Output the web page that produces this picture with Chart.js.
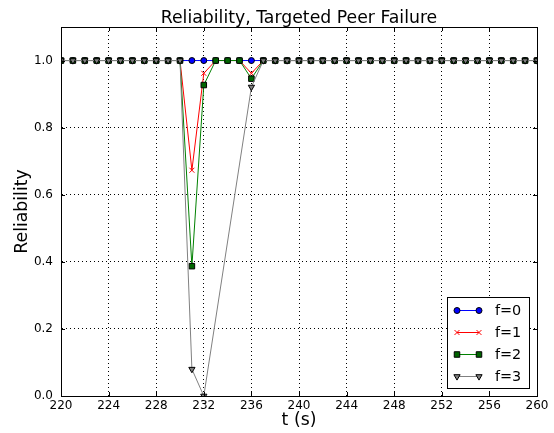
<!DOCTYPE html>
<html><head><meta charset="utf-8">
<script src="https://cdn.jsdelivr.net/npm/chart.js@4/dist/chart.umd.min.js"></script>
<style>html,body{margin:0;padding:0;background:#fff}#wrap{width:554px;height:433px;position:relative}</style>
</head><body><div id="wrap"><canvas id="c"></canvas></div>
<script>
const times = [220,221,222,223,224,225,226,227,228,229,230,231,232,233,234,235,236,237,238,239,240,241,242,243,244,245,246,247,248,249,250,251,252,253,254,255,256,257,258,259,260];
const f0 = [1,1,1,1,1,1,1,1,1,1,1,1,1,1,1,1,1,1,1,1,1,1,1,1,1,1,1,1,1,1,1,1,1,1,1,1,1,1,1,1,1];
const f1 = [1,1,1,1,1,1,1,1,1,1,1,0.673,0.962,1,1,1,0.962,1,1,1,1,1,1,1,1,1,1,1,1,1,1,1,1,1,1,1,1,1,1,1,1];
const f2 = [1,1,1,1,1,1,1,1,1,1,1,0.387,0.927,1,1,1,0.946,1,1,1,1,1,1,1,1,1,1,1,1,1,1,1,1,1,1,1,1,1,1,1,1];
const f3 = [1,1,1,1,1,1,1,1,1,1,1,0.08,0.0,null,null,null,0.921,1,1,1,1,1,1,1,1,1,1,1,1,1,1,1,1,1,1,1,1,1,1,1,1];
const seriesNames = ['f=0','f=1','f=2','f=3'];
const xTicks = [220,224,228,232,236,240,244,248,252,256,260];
const yTicks = [0.0,0.2,0.4,0.6,0.8,1.0];
const chartTitle = 'Reliability, Targeted Peer Failure';

const pts = arr => times.map((t,i)=>({x:t,y:arr[i]}));
const styles = [
  {color:'#0000ff', fill:'#0000ff', edge:'#000', style:'circle', r:3, rot:0},
  {color:'#ff0000', fill:'#ff0000', edge:'#ff0000', style:'cross', r:3.5, rot:45},
  {color:'#008000', fill:'#006400', edge:'#000', style:'rect', r:3.9, rot:0},
  {color:'#808080', fill:'#808080', edge:'#000', style:'triangle', r:3.6, rot:180}
];
const series = [f0,f1,f2,f3];
const datasets = series.map((s,i)=>({
  label: seriesNames[i], data: pts(s), order: series.length-1-i,
  borderColor: styles[i].color, borderWidth: 1,
  pointStyle: styles[i].style, pointRadius: styles[i].r, pointRotation: styles[i].rot,
  pointBackgroundColor: styles[i].fill, pointBorderColor: styles[i].edge, pointBorderWidth: 1,
  pointHoverRadius: styles[i].r, tension: 0, spanGaps: true, clip: 0, fill:false
}));

const FONT = "'DejaVu Sans', sans-serif";
const framePlugin = {
  id:'frame',
  afterDraw(chart){
    const {ctx, chartArea:a, scales:{x,y}} = chart;
    ctx.save();
    // title
    ctx.fillStyle='#000'; ctx.font = "17.3px "+FONT; ctx.textAlign='center'; ctx.textBaseline='alphabetic';
    ctx.fillText(chartTitle, (a.left+a.right)/2, 22.5);
    ctx.strokeStyle='#000'; ctx.lineWidth=1; ctx.setLineDash([]);
    ctx.beginPath();
    xTicks.forEach(v=>{const px=Math.round(x.getPixelForValue(v))+0.5;
      ctx.moveTo(px,a.bottom); ctx.lineTo(px,a.bottom-4);
      ctx.moveTo(px,a.top); ctx.lineTo(px,a.top+4);});
    yTicks.forEach(v=>{const py=Math.round(y.getPixelForValue(v))+0.5;
      ctx.moveTo(a.left,py); ctx.lineTo(a.left+4,py);
      ctx.moveTo(a.right,py); ctx.lineTo(a.right-4,py);});
    ctx.stroke();
    ctx.strokeRect(Math.round(a.left)+0.5, Math.round(a.top)+0.5, Math.round(a.right-a.left), Math.round(a.bottom-a.top));
    // legend
    const lx=447.5, ly=297.5, lw=82, lh=91;
    ctx.fillStyle='#fff'; ctx.fillRect(lx,ly,lw,lh);
    ctx.strokeStyle='#000'; ctx.strokeRect(lx,ly,lw,lh);
    ctx.font = "14.4px "+FONT; ctx.textBaseline='middle'; ctx.textAlign='left';
    chart.data.datasets.forEach((ds,i)=>{
      const cy = 310 + i*22;
      const st = styles[i];
      ctx.strokeStyle = st.color; ctx.lineWidth=1;
      ctx.beginPath(); ctx.moveTo(457,cy+0.5); ctx.lineTo(479,cy+0.5); ctx.stroke();
      [457,479].forEach(px=>{
        ctx.fillStyle=st.fill; ctx.strokeStyle=st.edge; ctx.lineWidth=1;
        Chart.helpers.drawPoint(ctx,{pointStyle:st.style, radius:st.r, rotation:st.rot, borderWidth:1}, px, cy+0.5);
      });
      ctx.fillStyle='#000';
      ctx.fillText(ds.label, 495, cy+1);
    });
    ctx.restore();
  }
};

new Chart(document.getElementById('c'), {
  type:'line',
  data:{datasets},
  plugins:[framePlugin],
  options:{
    responsive:true, maintainAspectRatio:false, animation:false,
    layout:{padding:{left:0,right:17,top:27,bottom:0}},
    plugins:{ legend:{display:false}, tooltip:{enabled:false}, title:{display:false} },
    scales:{
      x:{type:'linear', min:220, max:260,
        afterBuildTicks:s=>{s.ticks = xTicks.map(v=>({value:v}));},
        afterFit:s=>{s.height=37;},
        ticks:{color:'#000', font:{family:FONT,size:12}, padding:3, maxRotation:0, autoSkip:false,
          callback:v=>String(v)},
        grid:{color:'#000', lineWidth:1, drawTicks:false},
        border:{display:true, color:'#000', dash:[1,3]},
        title:{display:true, text:'t (s)', color:'#000', font:{family:FONT,size:17.3,lineHeight:1.2}, padding:{top:0,bottom:2}}
      },
      y:{type:'linear', min:0, max:1.1,
        afterBuildTicks:s=>{s.ticks = yTicks.map(v=>({value:v}));},
        afterFit:s=>{s.width=61;},
        ticks:{color:'#000', font:{family:FONT,size:12}, padding:8, callback:v=>Number(v).toFixed(1)},
        grid:{color:'#000', lineWidth:1, drawTicks:false},
        border:{display:true, color:'#000', dash:[1,3]},
        title:{display:true, text:'Reliability', color:'#000', font:{family:FONT,size:17.3,lineHeight:1.2}, padding:{top:12.3,bottom:0}}
      }
    }
  }
});
</script></body></html>
